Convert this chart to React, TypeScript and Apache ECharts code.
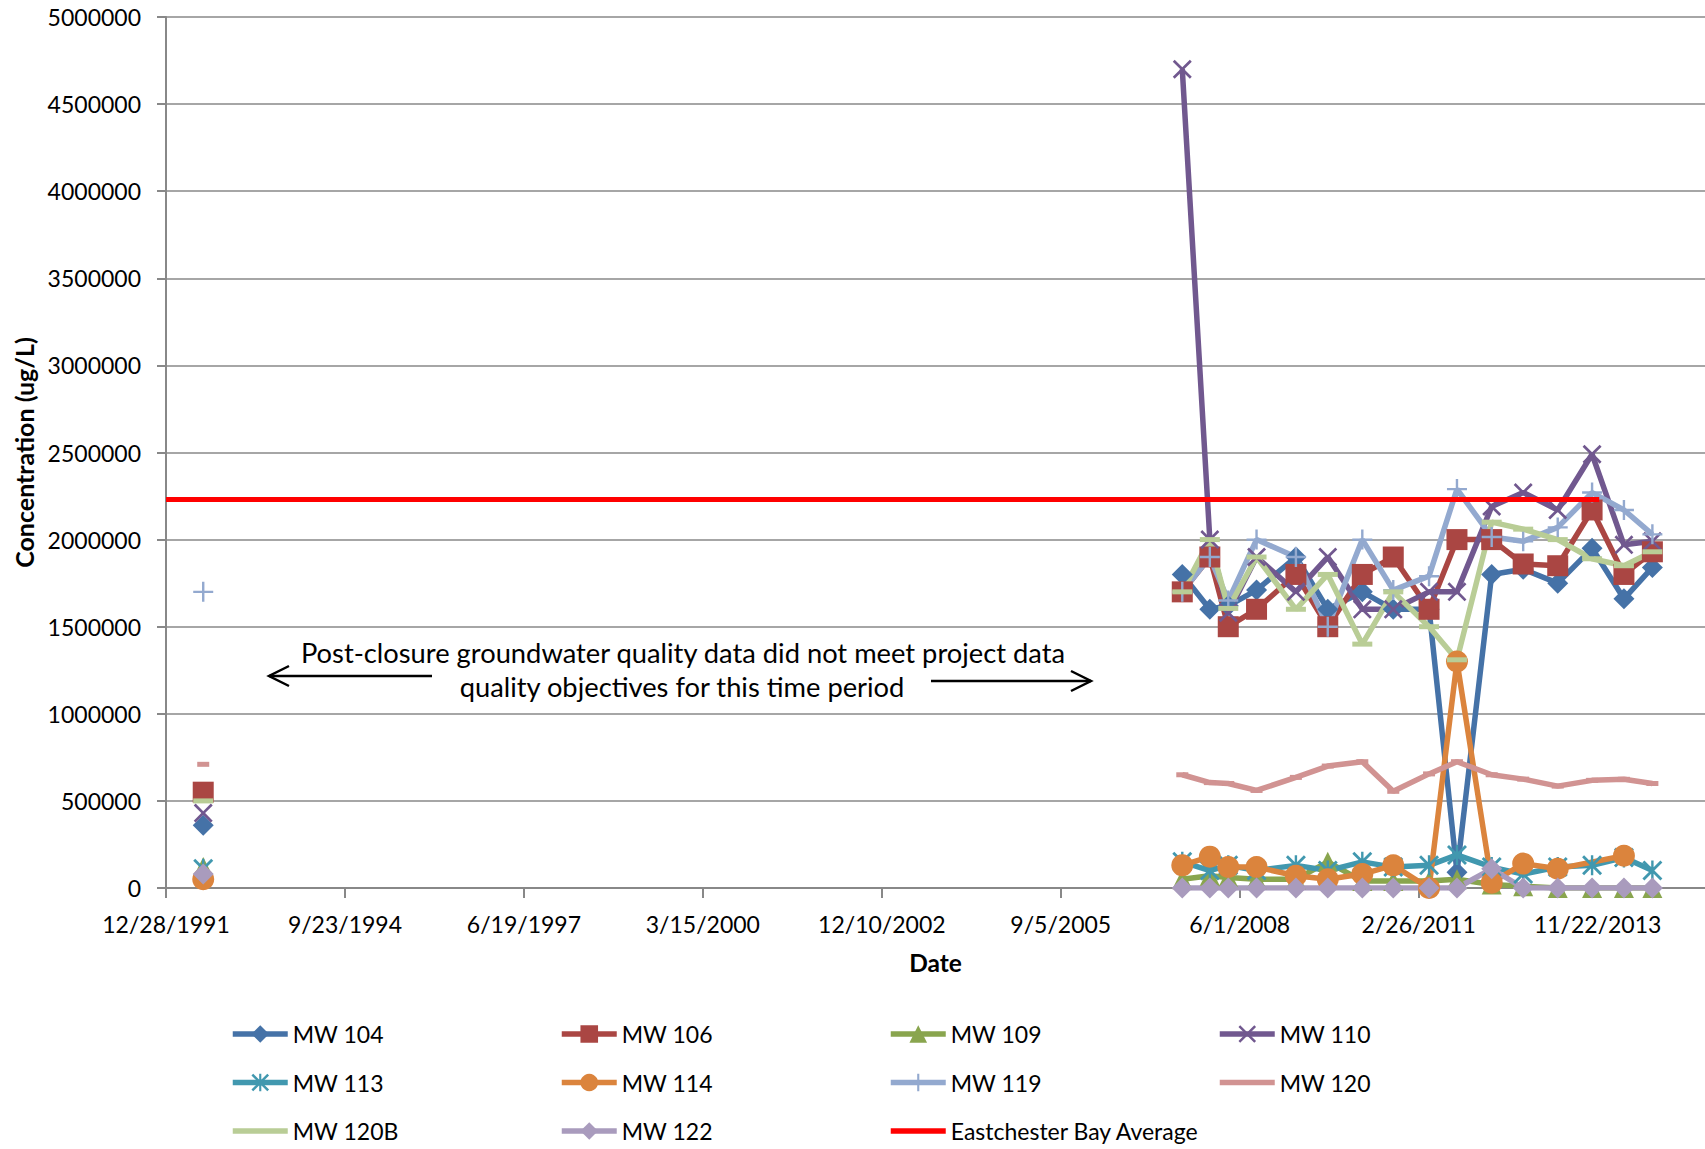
import React, { useEffect, useRef } from "react";
import * as echarts from "echarts";

// ---- Data ----
const baseDate = "1991-12-28"; // Excel date axis origin (first tick)
const sampleDates = [
  "1992-07-23", "2007-07-16", "2007-12-17", "2008-03-29", "2008-09-03", "2009-04-11",
  "2009-10-06", "2010-04-17", "2010-10-07", "2011-04-25", "2011-09-28", "2012-04-09",
  "2012-10-02", "2013-04-13", "2013-10-22", "2014-04-18", "2014-09-24",
];
// the 1992 sample and the 2007+ samples are not joined (data gap)
const gapAfterIndex = 0;

const mw104 = [360000, 1800000, 1600000, 1620000, 1710000, 1900000, 1600000, 1700000, 1600000, 1600000, 90000, 1800000, 1830000, 1750000, 1950000, 1660000, 1840000];
const mw106 = [550000, 1700000, 1900000, 1500000, 1600000, 1800000, 1500000, 1800000, 1900000, 1600000, 2000000, 2000000, 1860000, 1850000, 2170000, 1800000, 1930000];
const mw109 = [120000, 50000, 70000, 60000, 50000, 50000, 150000, 40000, 40000, 40000, 50000, 20000, 10000, 0, 0, 0, 0];
const mw110 = [430000, 4700000, 2000000, 1580000, 1900000, 1700000, 1900000, 1600000, 1600000, 1700000, 1700000, 2190000, 2270000, 2170000, 2490000, 1970000, 1990000];
const mw113 = [110000, 150000, 100000, 130000, 100000, 130000, 100000, 150000, 120000, 130000, 190000, 120000, 80000, 120000, 130000, 175000, 100000];
const mw114 = [50000, 130000, 180000, 120000, 120000, 70000, 50000, 80000, 130000, 0, 1300000, 30000, 140000, 110000, null, 185000, null];
const mw119 = [1700000, 1700000, 1900000, 1650000, 2000000, 1900000, 1500000, 2000000, 1710000, 1790000, 2290000, 2015000, 1990000, 2070000, 2270000, 2170000, 2030000];
const mw120 = [710000, 650000, 605000, 600000, 560000, 635000, 700000, 725000, 555000, 655000, 725000, 650000, 625000, 585000, 618000, 624000, 600000];
const mw120B = [500000, 1700000, 2000000, 1605000, 1900000, 1600000, 1800000, 1400000, 1700000, 1500000, 1310000, 2100000, 2060000, 2000000, 1890000, 1850000, 1930000];
const mw122 = [80000, 0, 0, 0, 0, 0, 0, 0, 0, 0, 0, 110000, 0, 0, 0, 0, 0];

const bayAverageDates = ["1991-12-28", "2013-12-01"];
const bayAverageValues = [2230000, 2230000];

const xTickStep = 1000; // days between date ticks
const xMaxDays = 8600;
const yMin = 0;
const yMax = 5000000;
const yStep = 500000;

const annotationLines = [
  "Post-closure groundwater quality data did not meet project data",
  "quality objectives for this time period",
];

// ---- helpers ----
const BASE_MS = (() => {
  const [y, m, d] = baseDate.split("-").map(Number);
  return Date.UTC(y, m - 1, d);
})();
function dayOffset(s: string): number {
  const [y, m, d] = s.split("-").map(Number);
  return Math.round((Date.UTC(y, m - 1, d) - BASE_MS) / 86400000);
}
function fmtDate(off: number): string {
  const dt = new Date(BASE_MS + off * 86400000);
  return `${dt.getUTCMonth() + 1}/${dt.getUTCDate()}/${dt.getUTCFullYear()}`;
}
function pairs(dates: string[], vals: (number | null)[], gapAfter = -1) {
  const out: any[] = [];
  dates.forEach((d, i) => {
    const v = vals[i];
    if (v !== null && v !== undefined) out.push([dayOffset(d), v]);
    if (i === gapAfter) out.push([dayOffset(d) + 1, "-"]);
  });
  return out;
}

const X_SYM = "path://M0,1L1,0L5,4L9,0L10,1L6,5L10,9L9,10L5,6L1,10L0,9L4,5Z";
const STAR_SYM =
  "path://M0,1L1,0L5,4L9,0L10,1L6,5L10,9L9,10L5,6L1,10L0,9L4,5Z M4.4,0L5.6,0L5.6,10L4.4,10Z";
const PLUS_SYM =
  "path://M4.4,0L5.6,0L5.6,4.4L10,4.4L10,5.6L5.6,5.6L5.6,10L4.4,10L4.4,5.6L0,5.6L0,4.4L4.4,4.4Z";

const FONT = "Lato";

export default function App() {
  const ref = useRef<HTMLDivElement>(null);

  useEffect(() => {
    if (!ref.current) return;
    const chart = echarts.init(ref.current, undefined, { renderer: "svg" });

    const mk = (name: string, vals: (number | null)[], color: string, symbol: string, size: number | number[]) => ({
      name,
      type: "line",
      data: pairs(sampleDates, vals, gapAfterIndex),
      symbol,
      symbolSize: size,
      showSymbol: true,
      connectNulls: false,
      lineStyle: { color, width: 5.5 },
      itemStyle: { color, borderWidth: 0 },
      emphasis: { disabled: true },
      z: 2,
    });

    const series: any[] = [
      mk("MW 104", mw104, "#4572A7", "diamond", 21),
      mk("MW 106", mw106, "#AA4643", "rect", 21),
      mk("MW 109", mw109, "#89A54E", "triangle", 20),
      mk("MW 110", mw110, "#71588F", X_SYM, 19),
      mk("MW 113", mw113, "#4198AF", STAR_SYM, 20),
      mk("MW 114", mw114, "#DB843D", "circle", 22),
      mk("MW 119", mw119, "#93A9CF", PLUS_SYM, 20),
      mk("MW 120", mw120, "#D19392", "rect", [12, 5]),
      mk("MW 120B", mw120B, "#B9CD96", "rect", [20, 5]),
      mk("MW 122", mw122, "#A99BBD", "diamond", 21),
      {
        name: "Eastchester Bay Average",
        type: "line",
        data: pairs(bayAverageDates, bayAverageValues),
        symbol: "none",
        showSymbol: false,
        lineStyle: { color: "#FF0000", width: 5 },
        itemStyle: { color: "#FF0000" },
        emphasis: { disabled: true },
        z: 3,
      },
    ];

    const noMarkerInLegend = new Set(["MW 120", "MW 120B", "Eastchester Bay Average"]);
    const legendCols = [
      ["MW 104", "MW 113", "MW 120B"],
      ["MW 106", "MW 114", "MW 122"],
      ["MW 109", "MW 119", "Eastchester Bay Average"],
      ["MW 110", "MW 120"],
    ];
    const legendLeft = [230, 559, 888, 1217];

    const axisGray = "#888888";

    chart.setOption({
      animation: false,
      textStyle: { fontFamily: FONT },
      grid: { left: 166, right: 0, top: 17, bottom: 261, containLabel: false },
      xAxis: {
        type: "value",
        min: 0,
        max: xMaxDays,
        interval: xTickStep,
        name: "Date",
        nameLocation: "middle",
        nameGap: 62,
        nameTextStyle: { fontFamily: FONT, fontWeight: "bold", fontSize: 24.5, color: "#000" },
        axisLine: { show: true, lineStyle: { color: axisGray, width: 2 } },
        axisTick: { show: true, inside: false, length: 10, lineStyle: { color: axisGray, width: 2 } },
        axisLabel: {
          show: true,
          margin: 24,
          fontFamily: FONT,
          fontSize: 23,
          color: "#000",
          showMaxLabel: false,
          formatter: (v: number) => (v % xTickStep === 0 ? fmtDate(v) : ""),
        },
        splitLine: { show: false },
      },
      yAxis: {
        type: "value",
        min: yMin,
        max: yMax,
        interval: yStep,
        name: "Concentration (ug/L)",
        nameLocation: "middle",
        nameRotate: 90,
        nameGap: 126,
        nameTextStyle: { fontFamily: FONT, fontWeight: "bold", fontSize: 25, color: "#000" },
        axisLine: { show: true, lineStyle: { color: axisGray, width: 2 } },
        axisTick: { show: true, inside: false, length: 9, lineStyle: { color: axisGray, width: 2 } },
        axisLabel: {
          margin: 25,
          fontFamily: FONT,
          fontSize: 23,
          color: "#000",
          formatter: (v: number) => String(v),
        },
        splitLine: { show: true, lineStyle: { color: axisGray, width: 1.6 } },
      },
      legend: legendCols.map((names, i) => ({
        orient: "vertical",
        left: legendLeft[i],
        top: 1022,
        height: 127,
        padding: 0,
        itemWidth: 55,
        itemHeight: 22,
        itemGap: 24.5,
        selectedMode: false,
        lineStyle: { width: 5.5 },
        data: names.map((n) =>
          noMarkerInLegend.has(n) ? { name: n, itemStyle: { opacity: 0 } } : { name: n }
        ),
        textStyle: { fontFamily: FONT, fontSize: 23, color: "#000", lineHeight: 24 },
      })),
      graphic: [
        {
          type: "text",
          x: 683,
          y: 652,
          style: {
            text: annotationLines[0],
            font: `27.3px ${FONT}`,
            fill: "#000",
            align: "center",
            verticalAlign: "middle",
          },
        },
        {
          type: "text",
          x: 682,
          y: 686.5,
          style: {
            text: annotationLines[1],
            font: `27.3px ${FONT}`,
            fill: "#000",
            align: "center",
            verticalAlign: "middle",
          },
        },
        { type: "line", shape: { x1: 269, y1: 676, x2: 432, y2: 676 }, style: { stroke: "#000", lineWidth: 2.5 } },
        { type: "polyline", shape: { points: [[289, 666], [269, 676], [289, 686]] }, style: { stroke: "#000", lineWidth: 2.5, fill: null } },
        { type: "line", shape: { x1: 931, y1: 681, x2: 1091, y2: 681 }, style: { stroke: "#000", lineWidth: 2.5 } },
        { type: "polyline", shape: { points: [[1071, 671], [1091, 681], [1071, 691]] }, style: { stroke: "#000", lineWidth: 2.5, fill: null } },
      ],
      series,
    });

    return () => chart.dispose();
  }, []);

  return (
    <div
      ref={ref}
      style={{ position: "absolute", left: 0, top: 0, width: 1705, height: 1149, background: "#fff" }}
    />
  );
}
